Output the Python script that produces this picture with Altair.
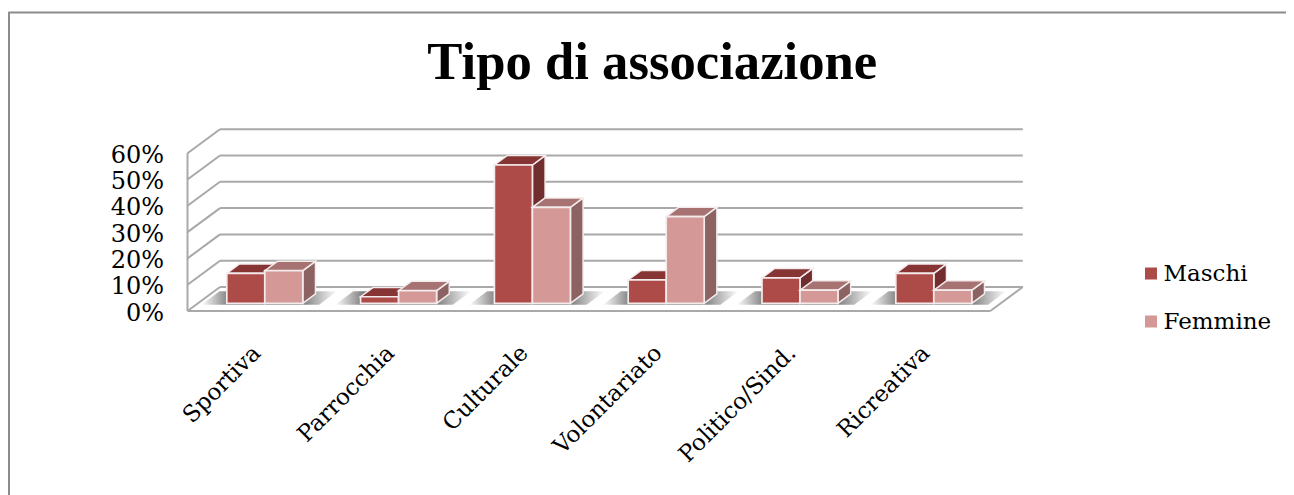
import altair as alt
import pandas as pd

CATEGORIES = ["Sportiva", "Parrocchia", "Culturale", "Volontariato", "Politico/Sind.", "Ricreativa"]
MASCHI = [0.114, 0.025, 0.526, 0.089, 0.097, 0.114]
FEMMINE = [0.124, 0.048, 0.365, 0.33, 0.05, 0.05]
TICKS = [0, 0.1, 0.2, 0.3, 0.4, 0.5, 0.6]
SERIES = ["Maschi", "Femmine"]
COLORS = ["#AC4B48", "#D49897"]
TOP_COLORS = ["#863534", "#A67372"]
SIDE_COLORS = ["#722E2E", "#8D6262"]

W, H = 835.5, 182
CAT_PX = 133.8
VAL_PX = 263.0  # pixels for 100%
DEPTH_X = 32.5 / CAT_PX
DEPTH_Y = 24 / VAL_PX
XMIN, XMAX = -0.5, W / CAT_PX - 0.5
YMAX = H / VAL_PX
Z0, Z1 = 0.32, 0.71
BW = 38 / CAT_PX
FONT = "DejaVu Serif"

x_scale = alt.Scale(domain=[XMIN, XMAX], nice=False, zero=False)
y_scale = alt.Scale(domain=[0, YMAX], nice=False)
x_axis = alt.Axis(values=list(range(6)), title=None, grid=False, ticks=False, domain=False,
                  labelExpr="[" + ",".join(f"'{c}'" for c in CATEGORIES) + "][datum.value]",
                  labelAngle=-45, labelAlign="right", labelBaseline="middle",
                  labelFont=FONT, labelFontSize=23, labelColor="#000000",
                  labelPadding=38, labelOffset=2, labelOverlap=False, labelBound=False, labelFlush=False)
y_axis = alt.Axis(values=TICKS, format=".0%", title=None, grid=False, ticks=False, domain=False,
                  labelFont=FONT, labelFontSize=24, labelColor="#000000", labelPadding=24, labelOffset=2,
                  labelOverlap=False, labelBound=False, labelFlush=False)
X = alt.X("x:Q", scale=x_scale, axis=x_axis)
Y = alt.Y("y:Q", scale=y_scale, axis=y_axis)

# walls and floor
grid = []
for t in TICKS:
    grid.append(dict(x=XMIN + DEPTH_X, x2=XMIN + DEPTH_X + 6, y=t + DEPTH_Y, y2=t + DEPTH_Y))
    grid.append(dict(x=XMIN, x2=XMIN + DEPTH_X, y=t, y2=t + DEPTH_Y))
grid.append(dict(x=XMIN, x2=XMIN, y=0, y2=0.6))
grid.append(dict(x=XMIN, x2=XMIN + 6, y=0, y2=0))
grid.append(dict(x=XMIN + 6, x2=XMIN + 6 + DEPTH_X, y=0, y2=DEPTH_Y))

walls = alt.Chart(pd.DataFrame(grid)).mark_rule(color="#A9A9A9", strokeWidth=2).encode(
    x=X, x2="x2:Q", y=Y, y2="y2:Q",
)

# floor shadows
shadow_rows = []
for i in range(6):
    for z, in [(Z0 - 0.06,), (Z0 + 0.5,)]:
        shadow_rows.append(dict(cat=CATEGORIES[i],
                                x=i + z * DEPTH_X - 0.46, x2=i + z * DEPTH_X + 0.42,
                                y=z * DEPTH_Y))
shadow_fill = alt.Gradient(gradient="linear", x1=0, x2=1, y1=0, y2=0, stops=[
    alt.GradientStop(offset=0, color="#FFFFFF"),
    alt.GradientStop(offset=0.2, color="#808080"),
    alt.GradientStop(offset=0.75, color="#808080"),
    alt.GradientStop(offset=1, color="#FFFFFF"),
])
shadows = alt.Chart(pd.DataFrame(shadow_rows)).mark_area(orient="horizontal", color=shadow_fill).encode(
    y=Y, x=X, x2="x2:Q", detail="cat:N"
)


def faces(values, s, offset):
    side, top, front = [], [], []
    for i, v in enumerate(values):
        c = i + Z0 * DEPTH_X + offset
        y0 = Z0 * DEPTH_Y
        dz = (Z1 - Z0)
        dx, dy = dz * DEPTH_X, dz * DEPTH_Y
        front.append(dict(x=c, x2=c + BW, y=y0, y2=y0 + v, serie=SERIES[s]))
        side.append(dict(cat=CATEGORIES[i], x=c + BW, y=y0, y2=y0 + v))
        side.append(dict(cat=CATEGORIES[i], x=c + BW + dx, y=y0 + dy, y2=y0 + v + dy))
        top.append(dict(cat=CATEGORIES[i], y=y0 + v, x=c, x2=c + BW))
        top.append(dict(cat=CATEGORIES[i], y=y0 + v + dy, x=c + dx, x2=c + BW + dx))
    side_l = alt.Chart(pd.DataFrame(side)).mark_area(
        orient="vertical", color=SIDE_COLORS[s], stroke="#F4ECEC", strokeWidth=1.5
    ).encode(x=X, y=Y, y2="y2:Q", detail="cat:N")
    top_l = alt.Chart(pd.DataFrame(top)).mark_area(
        orient="horizontal", color=TOP_COLORS[s], stroke="#F4ECEC", strokeWidth=1.5
    ).encode(y=Y, x=X, x2="x2:Q", detail="cat:N")
    front_l = alt.Chart(pd.DataFrame(front)).mark_bar(stroke="#F4ECEC", strokeWidth=1.7).encode(
        x=X, x2="x2:Q", y=Y, y2="y2:Q",
        color=alt.Color("serie:N",
                        scale=alt.Scale(domain=SERIES, range=COLORS),
                        legend=alt.Legend(title=None, orient="none", legendX=952, legendY=133,
                                          symbolType="square", symbolSize=144, symbolStrokeWidth=0,
                                          labelFont=FONT, labelFontSize=23, labelColor="#000000",
                                          labelOffset=1, rowPadding=24, padding=0)),
    )
    return [side_l, top_l, front_l]


# outer frame
frame_top = alt.Chart(pd.DataFrame({"k": [0]})).mark_rule(color="#8C8C8C", strokeWidth=2).encode(
    x=alt.value(-179), x2=alt.value(1200), y=alt.value(-116.5)
)
frame_left = alt.Chart(pd.DataFrame({"k": [0]})).mark_rule(color="#8C8C8C", strokeWidth=2).encode(
    x=alt.value(-178.5), y=alt.value(-117), y2=alt.value(400)
)

chart = alt.layer(
    frame_top, frame_left, walls, shadows,
    *faces(MASCHI, 0, -BW), *faces(FEMMINE, 1, 0),
).properties(
    width=W, height=H,
    title=alt.TitleParams("Tipo di associazione", font="Liberation Serif", fontSize=52.7, fontWeight="bold",
                          color="#000000", anchor="middle", frame="group", dx=47, offset=0, dy=121,
                          baseline="alphabetic"),
    autosize=alt.AutoSizeParams(type="none"),
    padding={"left": 179.5, "top": 121, "right": 263, "bottom": 184},
).configure_view(stroke=None)

chart.save("out.html", embed_options={"renderer": "svg", "actions": False})
